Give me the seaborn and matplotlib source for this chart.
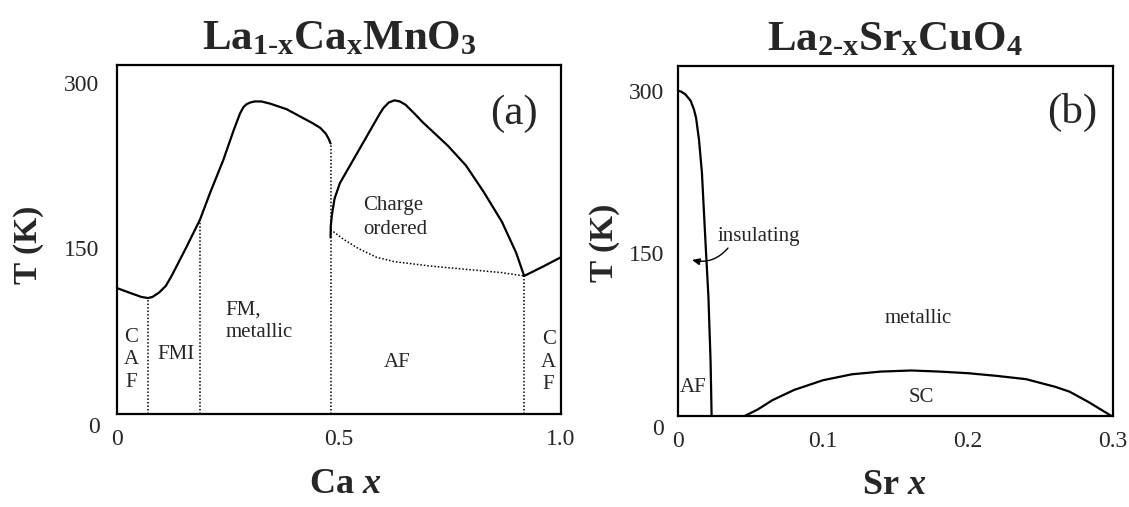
import matplotlib
matplotlib.use("Agg")
import matplotlib.pyplot as plt
import seaborn as sns

# ---------------- data ----------------
# Panel (a): La1-xCaxMnO3
fm_x = [0, 0.034, 0.055, 0.070, 0.080, 0.095, 0.110, 0.123, 0.155, 0.187, 0.2095,
        0.2395, 0.262, 0.277, 0.285, 0.292, 0.300, 0.310, 0.325, 0.345, 0.382,
        0.442, 0.458, 0.470, 0.477, 0.481]
fm_T = [114, 109, 106, 105, 106, 110, 116, 125, 150, 176, 200,
        230, 256, 272, 278, 280.5, 282, 283, 283, 281, 276,
        263, 259, 254, 249, 245]
co_x = [0.481, 0.4815, 0.484, 0.490, 0.502, 0.532, 0.562, 0.592, 0.600, 0.612,
        0.625, 0.637, 0.650, 0.670, 0.689, 0.745, 0.786, 0.826, 0.867, 0.899,
        0.917, 0.962, 1.0]
co_T = [160, 170, 180, 195, 209, 230, 251, 272, 277, 282,
        284, 283, 280, 272, 264, 243, 225, 201, 174, 146,
        125, 134, 142]
af_x = [0.481, 0.511, 0.543, 0.584, 0.624, 0.705, 0.786, 0.867, 0.917]
af_T = [167, 158, 150, 142, 138, 134, 131, 128, 125]
bound_x = [0.070, 0.187, 0.481, 0.917]
bound_T = [105, 176, 245, 125]

# Panel (b): La2-xSrxCuO4
neel_x = [0, 0.002, 0.005, 0.0087, 0.011, 0.0125, 0.0145, 0.0165, 0.019, 0.021,
          0.0225, 0.0232]
neel_T = [300, 299.5, 297, 291, 283, 275, 255, 225, 160, 110, 50, 0]
sc_x = [0.046, 0.055, 0.065, 0.080, 0.100, 0.120, 0.140, 0.161, 0.180, 0.200,
        0.220, 0.240, 0.260, 0.270, 0.283, 0.299]
sc_T = [0, 6, 14.5, 24, 33, 38.5, 41, 42, 41, 39.5, 37, 34, 27, 22.5, 13, 0]

xticks_a = [0, 0.5, 1.0]
xticklabels_a = ["0", "0.5", "1.0"]
xticks_b = [0, 0.1, 0.2, 0.3]
xticklabels_b = ["0", "0.1", "0.2", "0.3"]
yticks = [150, 300]
yticklabels = ["150", "300"]

# ---------------- style ----------------
sns.set_style("white")
plt.rcParams["font.family"] = ["Liberation Serif", "DejaVu Serif"]
plt.rcParams["mathtext.fontset"] = "custom"
plt.rcParams["mathtext.rm"] = "Liberation Serif"
plt.rcParams["mathtext.bf"] = "Liberation Serif:bold"
plt.rcParams["mathtext.it"] = "Liberation Serif:bold:italic"

fig = plt.figure(figsize=(11.29, 5.07), dpi=100)
ax1 = fig.add_axes([0.1036, 0.1834, 0.3933, 0.6884])
ax2 = fig.add_axes([0.6005, 0.1795, 0.3853, 0.6903])

LW = 1.6
DOT = (0, (1, 1.3))

# ---- panel a ----
sns.lineplot(x=fm_x, y=fm_T, ax=ax1, color="black", lw=LW, sort=False,
             estimator=None, legend=False)
sns.lineplot(x=co_x, y=co_T, ax=ax1, color="black", lw=LW, sort=False,
             estimator=None, legend=False)
sns.lineplot(x=af_x, y=af_T, ax=ax1, color="black", lw=1.1, sort=False,
             estimator=None, legend=False, linestyle=DOT)
ax1.vlines(bound_x, 0, bound_T, colors="black", linewidth=1.1, linestyles=[DOT])

ax1.set_xlim(0, 1.0)
ax1.set_ylim(0, 316)

# ---- panel b ----
sns.lineplot(x=neel_x, y=neel_T, ax=ax2, color="black", lw=LW, sort=False,
             estimator=None, legend=False)
sns.lineplot(x=sc_x, y=sc_T, ax=ax2, color="black", lw=LW, sort=False,
             estimator=None, legend=False)
ax2.set_xlim(0, 0.3)
ax2.set_ylim(0, 323)

TXT = 15
# annotations panel a
ax1.text(0.894, 272, "(a)", fontsize=31, ha="center", va="center")
ax1.text(0.555, 178, "Charge\nordered", fontsize=TXT, ha="left", va="center",
         linespacing=1.3)
ax1.text(0.244, 84, "FM,\nmetallic", fontsize=TXT, ha="left", va="center",
         linespacing=1.2)
ax1.text(0.133, 53.5, "FMI", fontsize=TXT, ha="center", va="center")
ax1.text(0.630, 47, "AF", fontsize=TXT, ha="center", va="center")
ax1.text(0.0315, 49, "C\nA\nF", fontsize=TXT, ha="center", va="center",
         linespacing=1.25)
ax1.text(0.972, 47, "C\nA\nF", fontsize=TXT, ha="center", va="center",
         linespacing=1.25)

# annotations panel b
ax2.text(0.2717, 280, "(b)", fontsize=31, ha="center", va="center")
ax2.text(0.0276, 166, "insulating", fontsize=TXT, ha="left", va="center")
ax2.text(0.1655, 90, "metallic", fontsize=TXT, ha="center", va="center")
ax2.text(0.168, 17.5, "SC", fontsize=TXT, ha="center", va="center")
ax2.text(0.0103, 26, "AF", fontsize=TXT, ha="center", va="center")
ax2.annotate("", xy=(0.0097, 144), xytext=(0.0345, 155),
             arrowprops=dict(arrowstyle="-|>,head_length=0.45,head_width=0.2",
                             color="black", lw=1.0,
                             connectionstyle="arc3,rad=-0.3",
                             shrinkA=0, shrinkB=0))

# ---- axes decoration ----
for ax, xt, xtl, ypad in [(ax1, xticks_a, xticklabels_a, 12.5),
                          (ax2, xticks_b, xticklabels_b, 10)]:
    ax.set_xticks(xt)
    ax.set_xticklabels(xtl)
    ax.set_yticks(yticks)
    ax.set_yticklabels(yticklabels)
    ax.tick_params(axis="x", length=0, pad=11, labelsize=17)
    ax.tick_params(axis="y", length=0, pad=ypad, labelsize=17)
    for s in ax.spines.values():
        s.set_visible(True)
        s.set_color("black")
        s.set_linewidth(1.6)
    ax.annotate("0", xy=(0, 0), xycoords=("axes fraction", "data"),
                xytext=(-ypad, -10), textcoords="offset points",
                ha="right", va="center", fontsize=17)
    ax.set_ylabel("T (K)", fontsize=24, fontweight="bold")
    ax.grid(False)

ax1.set_xlabel(r"Ca $x$", fontsize=26, fontweight="bold")
ax2.set_xlabel(r"Sr $x$", fontsize=26, fontweight="bold")
ax1.yaxis.set_label_coords(-0.164, 0.484)
ax2.yaxis.set_label_coords(-0.133, 0.494)
ax1.xaxis.set_label_coords(0.513, -0.155)
ax2.xaxis.set_label_coords(0.497, -0.152)

ax1.set_title(r"La$_{\mathbf{1\text{-}x}}$Ca$_{\mathbf{x}}$MnO$_{\mathbf{3}}$",
              fontsize=31, fontweight="bold", pad=11)
ax2.set_title(r"La$_{\mathbf{2\text{-}x}}$Sr$_{\mathbf{x}}$CuO$_{\mathbf{4}}$",
              fontsize=31, fontweight="bold", pad=11)

fig.savefig("out.png", dpi=100, facecolor="white")
